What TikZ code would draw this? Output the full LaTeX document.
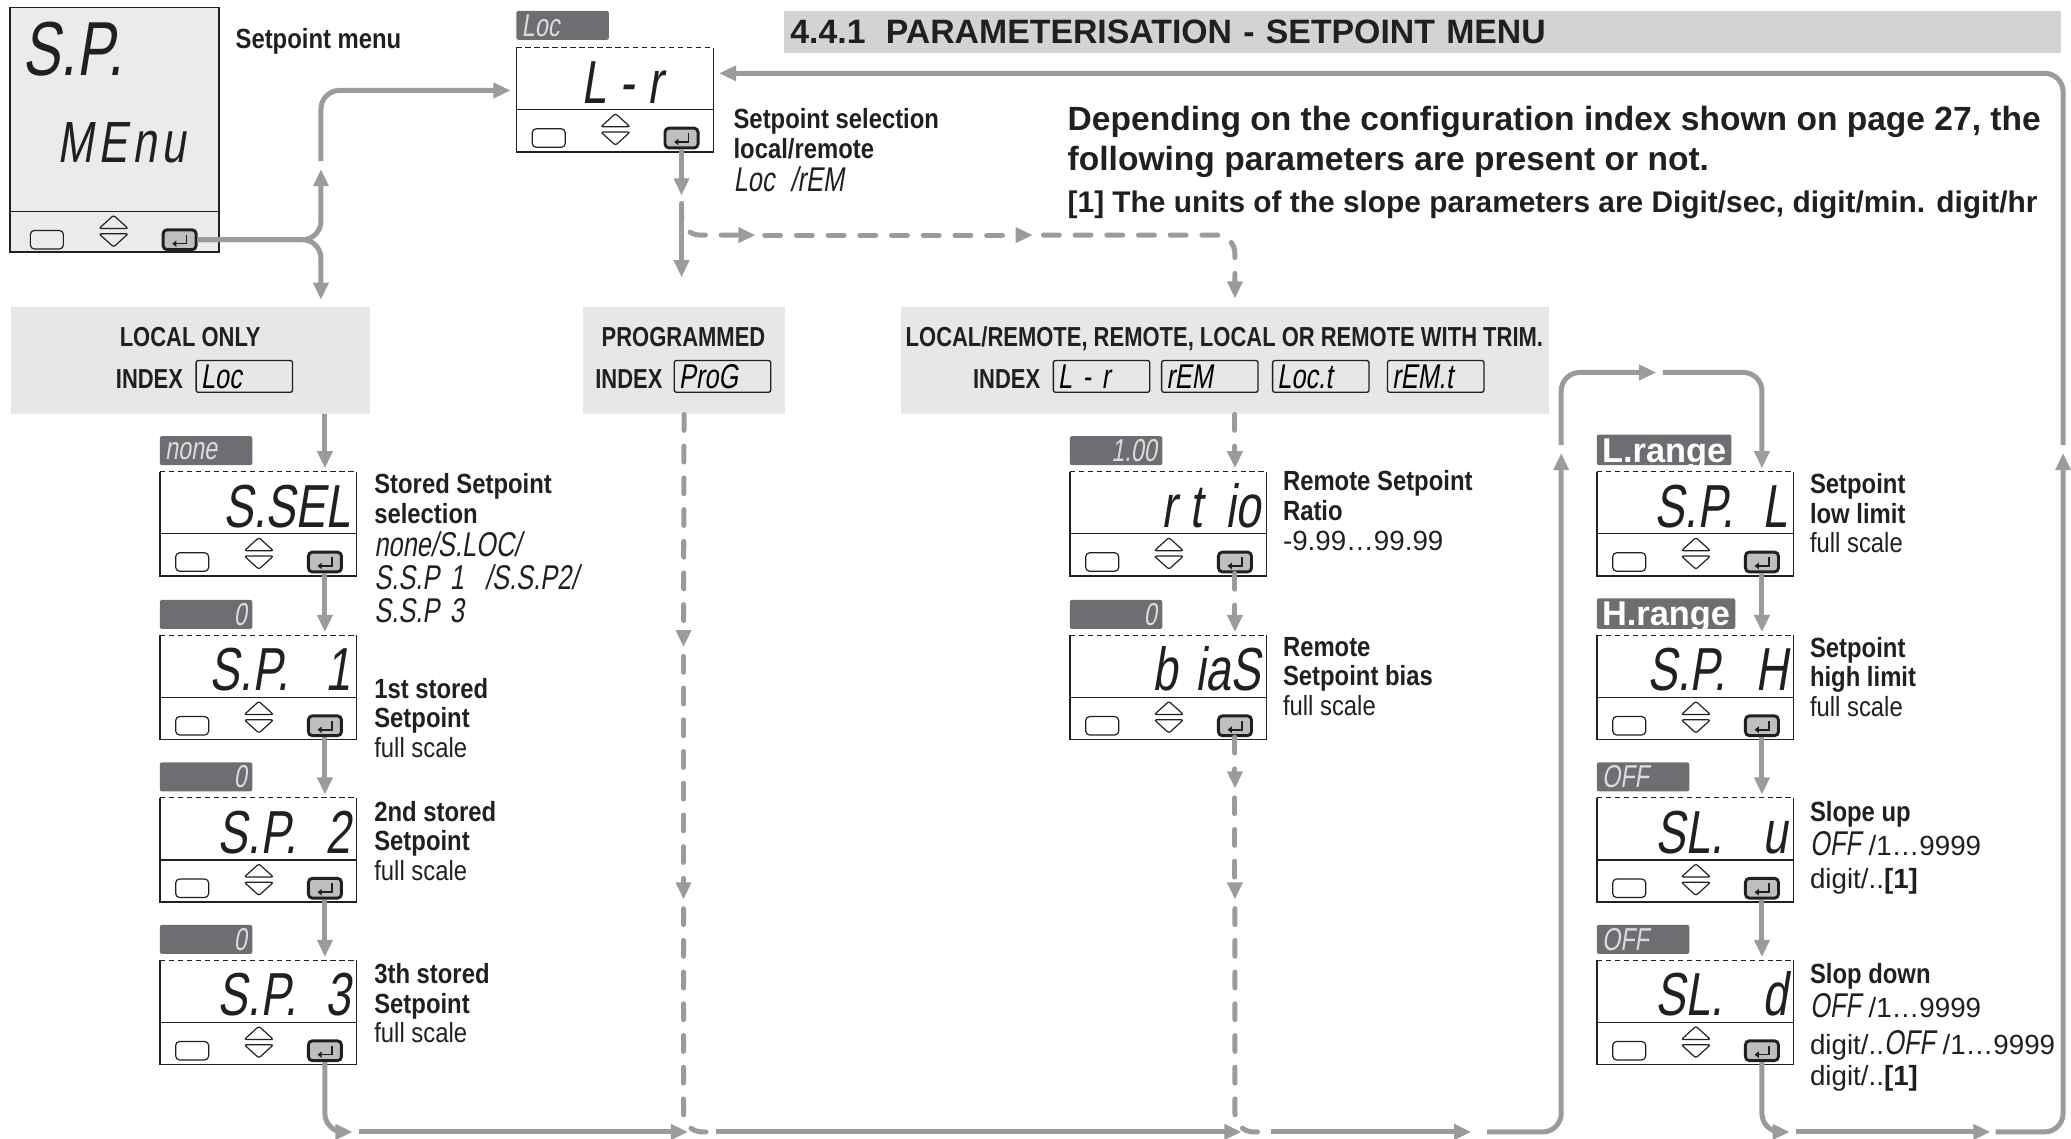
\documentclass[tikz,border=0pt]{standalone}
\usepackage{fontspec}
\setmainfont{Liberation Sans}
\newfontfamily\spCond{Liberation Sans}[FakeStretch=0.86]
\newfontfamily\spNarrow{Liberation Sans}[FakeStretch=0.8]
\newfontfamily\spSeg{Liberation Sans}[FakeSlant=0.16,FakeStretch=0.74]
\usepackage{tikz}
\usetikzlibrary{arrows.meta,positioning,calc}

\definecolor{spArrow}{HTML}{9A9B9E}
\definecolor{spCase}{HTML}{E6E7E8}
\definecolor{spHead}{HTML}{D1D3D4}
\definecolor{spTag}{HTML}{6D6E71}
\definecolor{spTagText}{HTML}{DADBDC}
\definecolor{spKeyFill}{HTML}{BCBEC0}
\definecolor{spScreen}{HTML}{EBEBEC}
\definecolor{spInk}{HTML}{231F20}

\tikzset{
    spFlow/.style={draw=spArrow, line width=1.9pt, rounded corners=7pt,
        -{Triangle[length=6.5pt,width=5.6pt]}},
    spRun/.style={draw=spArrow, line width=1.9pt, rounded corners=7pt},
    spDash/.style={spFlow, dash pattern=on 6pt off 6pt, line cap=round},
    spDashRun/.style={spRun, dash pattern=on 6pt off 6pt, line cap=round},
    spBody/.style={fill=white, minimum width=74.5pt, minimum height=39.5pt, inner sep=0pt},
    spFrame/.style={draw=spInk, line width=0.55pt},
    spKey/.style={draw=spInk, line width=0.45pt, rounded corners=1.5pt,
        minimum width=12.5pt, minimum height=7pt, inner sep=0pt},
    spEnter/.style={draw=spInk, fill=spKeyFill, line width=1.1pt, rounded corners=1.5pt,
        minimum width=12.5pt, minimum height=7.5pt, inner sep=0pt},
    spDigits/.style={font=\spSeg\fontsize{23}{23}\selectfont, text=spInk, inner sep=0pt},
    spTagBox/.style={fill=spTag, rounded corners=0.8pt, minimum height=11pt,
        inner ysep=0pt, inner xsep=2pt, text width=31pt, text=spTagText,
        font=\spSeg\fontsize{12}{12}\selectfont},
    spTagL/.style={spTagBox, align=left},
    spTagR/.style={spTagBox, align=right},
    spRange/.style={fill=spTag, rounded corners=0.8pt, inner ysep=1.2pt, inner xsep=2pt,
        text height=9.2pt, text depth=0pt, text=white, font=\bfseries\fontsize{13}{13}\selectfont},
    spLabel/.style={anchor=north west, inner sep=0pt, align=left, text=spInk,
        font=\spCond\bfseries\fontsize{10.5}{11.25}\selectfont},
    spCaseBox/.style={fill=spCase, anchor=north west, minimum height=40.5pt, inner sep=0pt},
    spCaseText/.style={text=spInk, inner sep=0pt, font=\spNarrow\bfseries\fontsize{10.4}{11}\selectfont},
    spIndex/.style={draw=spInk, line width=0.5pt, rounded corners=0.8pt, minimum height=12pt,
        text width=33pt, inner xsep=1.75pt, inner ysep=0pt, align=left,
        font=\spSeg\fontsize{13}{13}\selectfont}
}

\newcommand{\spseg}[1]{{\spSeg\mdseries\fontsize{13}{13}\selectfont #1}}
\newcommand{\spnum}[1]{{\rmfamily\mdseries #1}}
\newcommand{\splight}[1]{{\mdseries #1}}

% keypad under a display: #1 name, #2 top left of the keypad
\newcommand{\spkeys}[2]{%
    \begin{scope}[shift={(#2)}]
        \node[spKey] (#1-sel) at (24.5,21.5) {};
        \draw[spFrame, line width=0.45pt, rounded corners=0.8pt] (64,13) -- (75,3) -- (86,13) -- cycle;
        \draw[spFrame, line width=0.45pt, rounded corners=0.8pt] (64,17) -- (75,27) -- (86,17) -- cycle;
        \node[spEnter] (#1-ent) at (125,21.5) {};
        \draw[spInk, line width=0.6pt, -{Triangle[length=1.6pt,width=2.4pt]}]
            ([shift={(2.6pt,1.8pt)}]#1-ent.center) -- ++(0pt,-3.3pt) -- ++(-5.4pt,0pt);
    \end{scope}}

% small display: #1 name, #2 top left corner, #3 reading
\newcommand{\spdevice}[3]{%
    \begin{scope}[shift={(#2)}]
        \node[spBody] (#1) at (74.5,39.5) {};
        \draw[spFrame] (0,0) -- (0,79) -- (149,79) -- (149,0);
        \draw[spFrame, line width=0.45pt, dash pattern=on 2pt off 1.4pt] (0,0) -- (149,0);
        \draw[spFrame] (0,47) -- (149,47);
        \node[spDigits, anchor=base east] (#1-lcd) at (145,42) {#3};
        \spkeys{#1}{0,47}
    \end{scope}}

\begin{document}
\begin{tikzpicture}[x=0.5pt,y=-0.5pt]
    \useasboundingbox (0,0) rectangle (1568,862);

    % heading and notes
    \node[fill=spHead, anchor=north west, minimum width=483.5pt, minimum height=14pt,
        inner xsep=2.5pt, text width=478.5pt, align=left, text=spInk,
        font=\bfseries\fontsize{12.8}{13}\selectfont] (title) at (593,8)
        {4.4.1\hspace{0.6em}PARAMETERISATION - SETPOINT MENU};
    \node[anchor=north west, inner sep=0pt, align=left, text=spInk,
        font=\bfseries\fontsize{12.7}{15}\selectfont] (note) at (808,80)
        {Depending on the configuration index shown on page 27, the\\
         following parameters are present or not.};
    \node[anchor=north west, inner sep=0pt, text=spInk,
        font=\bfseries\fontsize{11.3}{12}\selectfont] (footnote) at (808,144)
        {[1] The units of the slope parameters are Digit/sec, digit/min. digit/hr};

    % menu entry
    \node[fill=spScreen, draw=spInk, line width=0.6pt, minimum width=79pt,
        minimum height=92.5pt, inner sep=0pt, anchor=north west] (menu) at (7,5) {};
    \draw[spFrame] (7,160) -- (165,160);
    \node[spDigits, font=\spSeg\fontsize{29}{29}\selectfont, anchor=base west] (menu-top) at (17,57) {S.P.};
    \node[spDigits, font=\spSeg\fontsize{22}{22}\selectfont, anchor=base west] (menu-low) at (43,123)
        {M\hspace{2pt}E\hspace{2pt}n\hspace{2pt}u};
    \spkeys{menu}{11,160}
    \node[spLabel] (menu-lbl) at (178,21) {Setpoint menu};

    % setpoint selection
    \spdevice{lr}{391,36}{L\hspace{5pt}-\hspace{5pt}r\rule{17pt}{0pt}}
    \node[spTagL, anchor=south west] (lr-tag) at ([yshift=2.5pt]lr.north west) {Loc};
    \node[spLabel] (lr-lbl) at (555,82)
        {Setpoint selection\\local/remote\\[1pt]\spseg{Loc\hspace{6pt}/rEM}};

    % index panels
    \node[spCaseBox, minimum width=136pt] (localbox) at (8,232) {};
    \node[spCaseText, anchor=base] (localbox-title) at (144,262) {LOCAL ONLY};
    \node[spCaseText, anchor=base east] (localbox-key) at (139,294) {INDEX};
    \node[spIndex, anchor=west] (localbox-idx) at (148,285) {Loc};

    \node[spCaseBox, minimum width=76.5pt] (progbox) at (441,232) {};
    \node[spCaseText, anchor=base] (progbox-title) at (517.5,262) {PROGRAMMED};
    \node[spCaseText, anchor=base east] (progbox-key) at (502,294) {INDEX};
    \node[spIndex, anchor=west] (progbox-idx) at (510,285) {ProG};

    \node[spCaseBox, minimum width=245pt] (remotebox) at (682,232) {};
    \node[spCaseText, anchor=base] (remotebox-title) at (927,262)
        {LOCAL/REMOTE, REMOTE, LOCAL OR REMOTE WITH TRIM.};
    \node[spCaseText, anchor=base east] (remotebox-key) at (788,294) {INDEX};
    \node[spIndex, anchor=west] (remotebox-lr) at (797,285) {L\hspace{4pt}-\hspace{4pt}r};
    \node[spIndex, anchor=west] (remotebox-rem) at (879,285) {rEM};
    \node[spIndex, anchor=west] (remotebox-loct) at (963,285) {Loc.t};
    \node[spIndex, anchor=west] (remotebox-remt) at (1050,285) {rEM.t};

    % local only chain
    \spdevice{ssel}{121,357}{S.SEL}
    \node[spTagL, anchor=south west] (ssel-tag) at ([yshift=2pt]ssel.north west) {none};
    \node[spLabel] (ssel-lbl) at (283,358)
        {Stored Setpoint\\selection\\[1.3pt]\spseg{none/S.LOC/}\\[1.3pt]%
         \spseg{S.S.P\hspace{4pt}1\hspace{8pt}/S.S.P2/}\\[1.3pt]\spseg{S.S.P\hspace{4pt}3}};

    \spdevice{spone}{121,481}{S.P.\hspace{14pt}1}
    \node[spTagR, anchor=south west] (spone-tag) at ([yshift=2pt]spone.north west) {0};
    \node[spLabel] (spone-lbl) at (283,513) {1st stored\\Setpoint\\\splight{full scale}};

    \spdevice{sptwo}{121,604}{S.P.\hspace{11pt}2}
    \node[spTagR, anchor=south west] (sptwo-tag) at ([yshift=2pt]sptwo.north west) {0};
    \node[spLabel] (sptwo-lbl) at (283,606) {2nd stored\\Setpoint\\\splight{full scale}};

    \spdevice{spthree}{121,727}{S.P.\hspace{11pt}3}
    \node[spTagR, anchor=south west] (spthree-tag) at ([yshift=2pt]spthree.north west) {0};
    \node[spLabel] (spthree-lbl) at (283,729) {3th stored\\Setpoint\\\splight{full scale}};

    % remote chain
    \spdevice{rtio}{810,357}{r\hspace{5pt}t\hspace{9pt}io}
    \node[spTagR, anchor=south west] (rtio-tag) at ([yshift=2pt]rtio.north west) {1.00};
    \node[spLabel] (rtio-lbl) at (971,356)
        {Remote Setpoint\\Ratio\\\spnum{-9.99…99.99}};

    \spdevice{bias}{810,481}{b\hspace{7pt}iaS}
    \node[spTagR, anchor=south west] (bias-tag) at ([yshift=2pt]bias.north west) {0};
    \node[spLabel] (bias-lbl) at (971,482) {Remote\\Setpoint bias\\\splight{full scale}};

    % limits and slopes
    \spdevice{spl}{1209,357}{S.P.\hspace{11pt}L}
    \node[spRange, anchor=south west] (spl-tag) at ([yshift=2pt]spl.north west) {L.range};
    \node[spLabel] (spl-lbl) at (1370,358) {Setpoint\\low limit\\\splight{full scale}};

    \spdevice{sph}{1209,481}{S.P.\hspace{11pt}H}
    \node[spRange, anchor=south west] (sph-tag) at ([yshift=2pt]sph.north west) {H.range};
    \node[spLabel] (sph-lbl) at (1370,482) {Setpoint\\high limit\\\splight{full scale}};

    \spdevice{slu}{1209,604}{SL.\hspace{15pt}u}
    \node[spTagL, anchor=south west] (slu-tag) at ([yshift=2pt]slu.north west) {OFF};
    \node[spLabel] (slu-lbl) at (1370,606)
        {Slope up\\[0.75pt]\spseg{OFF}\spnum{ /1…9999}\\[1.25pt]\spnum{digit/..}{\rmfamily[1]}};

    \spdevice{sld}{1209,727}{SL.\hspace{15pt}d}
    \node[spTagL, anchor=south west] (sld-tag) at ([yshift=2pt]sld.north west) {OFF};
    \node[spLabel] (sld-lbl) at (1370,729)
        {Slop down\\[0.75pt]\spseg{OFF}\spnum{ /1…9999}\\[2.75pt]%
         \spnum{digit/..}\spseg{OFF}\spnum{ /1…9999}\\[0.25pt]\spnum{digit/..}{\rmfamily[1]}};

    % bend points
    \coordinate (forkup) at (243,128);
    \coordinate (forkdown) at (243,227);
    \coordinate (riseup) at (243,122);
    \coordinate (lrstop) at (516,148);
    \coordinate (lrgo) at (516,154);
    \coordinate (progin) at (516,210);
    \coordinate (dashA) at (572,178);
    \coordinate (dashAb) at (579,178);
    \coordinate (dashB) at (782,178);
    \coordinate (dashBb) at (790,178);
    \coordinate (progarrA) at (517.5,490);
    \coordinate (progarrAb) at (517.5,497);
    \coordinate (progarrB) at (517.5,681);
    \coordinate (progarrBb) at (517.5,688);
    \coordinate (remarrA) at (935,597);
    \coordinate (remarrAb) at (935,604);
    \coordinate (remarrB) at (935,681);
    \coordinate (remarrBb) at (935,688);
    \coordinate (floor1) at (267,857);
    \coordinate (floor1b) at (272,857);
    \coordinate (floor2) at (521,857);
    \coordinate (progjoin) at (537,857);
    \coordinate (floor3) at (542,857);
    \coordinate (floor4) at (940,857);
    \coordinate (remjoin) at (956,857);
    \coordinate (floor5) at (962,857);
    \coordinate (floor6) at (1114,857);
    \coordinate (floor7) at (1126,857);
    \coordinate (loopup) at (1182,343);
    \coordinate (loopupb) at (1182,337);
    \coordinate (looptop) at (1254,282);
    \coordinate (looptopb) at (1259,282);
    \coordinate (floor8) at (1355,857);
    \coordinate (floor9) at (1360,857);
    \coordinate (floor10) at (1507,857);
    \coordinate (floor11) at (1511,857);
    \coordinate (returnup) at (1562,343);
    \coordinate (returnupb) at (1562,337);

    % arrows from the menu
    \draw[spFlow] (menu-ent.east) -| (forkup);
    \draw[spFlow] (menu-ent.east) -| (forkdown);
    \draw[spFlow] (riseup) |- ([shift={(-2pt,3.5pt)}]lr.west);

    % branches from setpoint selection
    \draw[spFlow] (lr-ent.south) -- (lrstop);
    \draw[spFlow] (lrgo) -- (progin);
    \draw[spDash] (lrgo) |- (dashA);
    \draw[spDash] (dashAb) -- (dashB);
    \draw[spDash] (dashBb) -| ([yshift=3pt]remotebox.north -| rtio-ent);

    % local only
    \draw[spFlow] (localbox.south -| ssel-ent) -- ([yshift=1pt]ssel.north -| ssel-ent);
    \draw[spFlow] (ssel-ent.south) -- ([yshift=1pt]spone.north -| spone-ent);
    \draw[spFlow] (spone-ent.south) -- ([yshift=1pt]sptwo.north -| sptwo-ent);
    \draw[spFlow] (sptwo-ent.south) -- ([yshift=1pt]spthree.north -| spthree-ent);
    \draw[spFlow] (spthree-ent.south) |- (floor1);
    \draw[spFlow] (floor1b) -- (floor2);

    % programmed
    \draw[spDash] (progbox.south) -- (progarrA);
    \draw[spDash] (progarrAb) -- (progarrB);
    \draw[spDashRun] (progarrBb) |- (progjoin);
    \draw[spFlow] (floor3) -- (floor4);

    % remote
    \draw[spDash] (remotebox.south -| rtio-ent) -- ([yshift=1pt]rtio.north -| rtio-ent);
    \draw[spDash] (rtio-ent.south) -- ([yshift=1pt]bias.north -| bias-ent);
    \draw[spDash] (bias-ent.south) -- (remarrA);
    \draw[spDash] (remarrAb) -- (remarrB);
    \draw[spDashRun] (remarrBb) |- (remjoin);
    \draw[spFlow] (floor5) -- (floor6);

    % limits loop and return
    \draw[spFlow] (floor7) -| (loopup);
    \draw[spFlow] (loopupb) |- (looptop);
    \draw[spFlow] (looptopb) -| ([yshift=1pt]spl.north -| spl-ent);
    \draw[spFlow] (spl-ent.south) -- ([yshift=1pt]sph.north -| sph-ent);
    \draw[spFlow] (sph-ent.south) -- ([yshift=1pt]slu.north -| slu-ent);
    \draw[spFlow] (slu-ent.south) -- ([yshift=1pt]sld.north -| sld-ent);
    \draw[spFlow] (sld-ent.south) |- (floor8);
    \draw[spFlow] (floor9) -- (floor10);
    \draw[spFlow] (floor11) -| (returnup);
    \draw[spFlow] (returnupb) |- ([shift={(2pt,10pt)}]lr.east);
\end{tikzpicture}
\end{document}
